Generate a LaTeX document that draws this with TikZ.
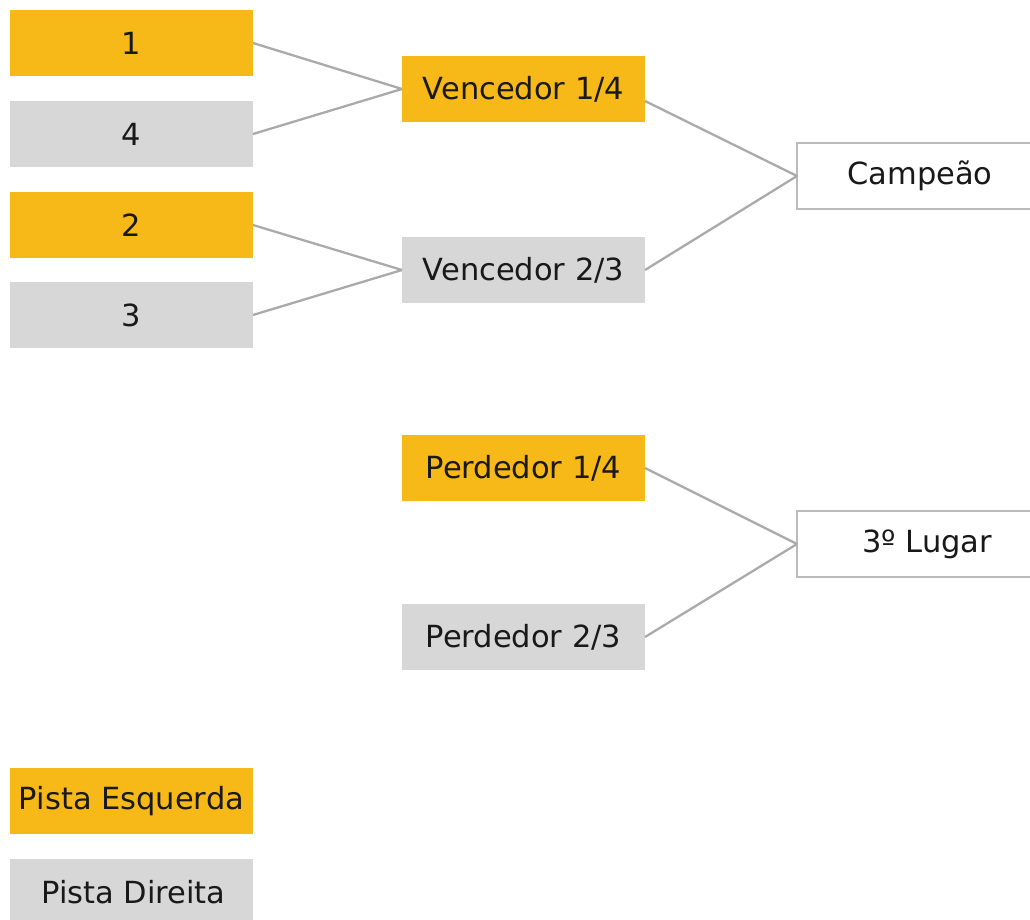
\documentclass[tikz,border=0pt]{standalone}
\usepackage{fontspec}
\setmainfont{DejaVu Sans}
\definecolor{yel}{HTML}{F7B917}
\definecolor{gry}{HTML}{D7D7D7}
\definecolor{lin}{HTML}{AAAAAA}
\definecolor{bord}{HTML}{BBBBBB}
\begin{document}
\begin{tikzpicture}[x=1pt,y=-1pt,
  box/.style={minimum width=243pt,minimum height=66pt,inner sep=0pt,outer sep=0pt,
    font=\fontsize{30.5}{33}\selectfont,text=black!90},
  ybox/.style={box,fill=yel},
  gbox/.style={box,fill=gry},
  wbox/.style={box,draw=bord,line width=2.6pt,fill=white,minimum width=236pt},
  conn/.style={draw=lin,line width=2.3pt}]
\useasboundingbox (0,0) rectangle (1030,920);
\clip (0,0) rectangle (1030,920);
\node[ybox] (n1) at (131.5,43) {1};
\node[gbox] (n4) at (131.5,134) {4};
\node[ybox] (n2) at (131.5,225) {2};
\node[gbox] (n3) at (131.5,315) {3};
\node[ybox] (v14) at (523.5,89) {Vencedor 1/4};
\node[gbox] (v23) at (523.5,270) {Vencedor 2/3};
\node[ybox] (p14) at (523.5,468) {Perdedor 1/4};
\node[gbox] (p23) at (523.5,637) {Perdedor 2/3};
\node[wbox] (camp) at (915,176) {\hspace*{10pt}Campeão};
\node[wbox] (lug) at (915,544) {\hspace*{24pt}3º Lugar};
\node[ybox] (pe) at (131.5,801) {Pista Esquerda};
\node[gbox] (pd) at (131.5,892) {\hspace*{4pt}Pista Direita};
\draw[conn] (n1.east) -- (v14.west);
\draw[conn] (n4.east) -- (v14.west);
\draw[conn] (n2.east) -- (v23.west);
\draw[conn] (n3.east) -- (v23.west);
\draw[conn] ([yshift=-12pt]v14.east) -- (camp.west);
\draw[conn] (v23.east) -- (camp.west);
\draw[conn] (p14.east) -- (lug.west);
\draw[conn] (p23.east) -- (lug.west);
\end{tikzpicture}
\end{document}
